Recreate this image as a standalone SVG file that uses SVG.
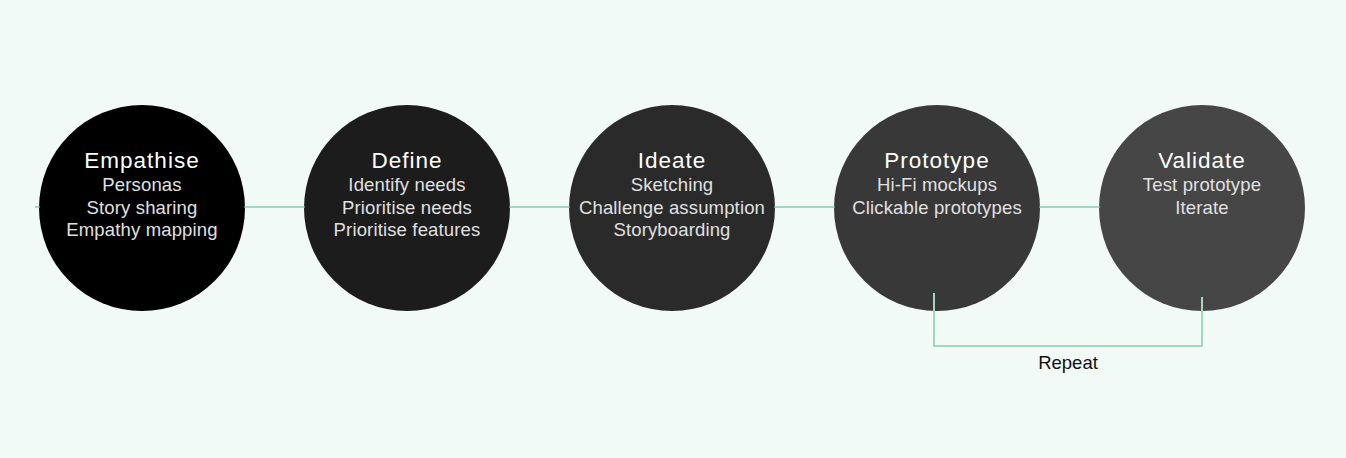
<svg xmlns="http://www.w3.org/2000/svg" width="1346" height="458" viewBox="0 0 1346 458">
<style>
.bg{fill:#f2faf8}
.conn{stroke:#a3d7bf;stroke-width:2;fill:none}
.t{font-family:"Liberation Sans",Arial,sans-serif;font-size:22.5px;letter-spacing:1px;fill:#ffffff;text-anchor:middle}
.s{font-family:"Liberation Sans",Arial,sans-serif;font-size:18.5px;letter-spacing:0.15px;fill:#e0e0e0;text-anchor:middle}
.r{font-family:"Liberation Sans",Arial,sans-serif;font-size:18.5px;fill:#111111;text-anchor:middle}
</style>
<rect class="bg" x="0" y="0" width="1346" height="458"/>
<g id="empathise">
<circle cx="142" cy="208" r="103" fill="#000000"/>
<text class="t" x="142" y="168">Empathise</text>
<text class="s" x="142" y="191">Personas</text>
<text class="s" x="142" y="213.5">Story sharing</text>
<text class="s" x="142" y="235.5">Empathy mapping</text>
</g>
<g id="define">
<circle cx="407" cy="208" r="103" fill="#1c1c1c"/>
<text class="t" x="407" y="168">Define</text>
<text class="s" x="407" y="191">Identify needs</text>
<text class="s" x="407" y="213.5">Prioritise needs</text>
<text class="s" x="407" y="235.5">Prioritise features</text>
</g>
<g id="ideate">
<circle cx="672" cy="208" r="103" fill="#2a2a2a"/>
<text class="t" x="672" y="168">Ideate</text>
<text class="s" x="672" y="191">Sketching</text>
<text class="s" x="672" y="213.5">Challenge assumption</text>
<text class="s" x="672" y="235.5">Storyboarding</text>
</g>
<g id="prototype">
<circle cx="937" cy="208" r="103" fill="#383838"/>
<text class="t" x="937" y="168">Prototype</text>
<text class="s" x="937" y="191">Hi-Fi mockups</text>
<text class="s" x="937" y="213.5">Clickable prototypes</text>
</g>
<g id="validate">
<circle cx="1202" cy="208" r="103" fill="#464646"/>
<text class="t" x="1202" y="168">Validate</text>
<text class="s" x="1202" y="191">Test prototype</text>
<text class="s" x="1202" y="213.5">Iterate</text>
</g>
<g id="connectors">
<line class="conn" x1="35" y1="207" x2="39.5" y2="207"/>
<line class="conn" x1="244.5" y1="207" x2="304.5" y2="207"/>
<line class="conn" x1="509.5" y1="207" x2="569.5" y2="207"/>
<line class="conn" x1="774.5" y1="207" x2="834.5" y2="207"/>
<line class="conn" x1="1039.5" y1="207" x2="1099.5" y2="207"/>
<polyline class="conn" points="934,293 934,346 1202,346 1202,297"/>
</g>
<g id="repeat-label">
<text class="r" x="1068" y="369">Repeat</text>
</g>
</svg>
